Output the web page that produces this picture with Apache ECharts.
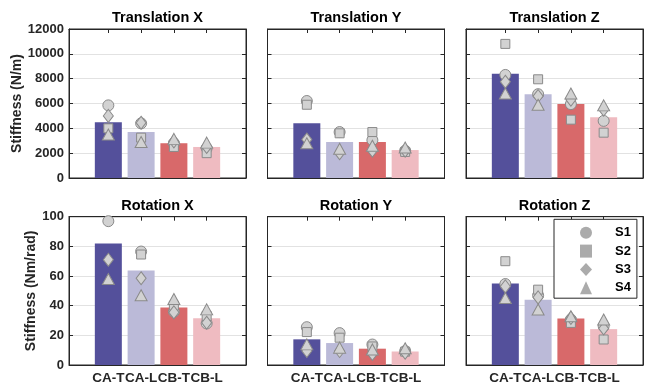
<!DOCTYPE html>
<html>
<head>
<meta charset="utf-8">
<script src="https://cdn.jsdelivr.net/npm/echarts@6/dist/echarts.min.js"></script>
<style>
  html, body { margin: 0; padding: 0; background: #fff; }
  #chart { width: 647px; height: 385px; }
</style>
</head>
<body>
<div id="chart"></div>
<script>
// Stiffness per condition: bar = mean, markers = individual subjects S1..S4
const categories = ['CA-T', 'CA-L', 'CB-T', 'CB-L'];
const panelTitles = ['Translation X', 'Translation Y', 'Translation Z', 'Rotation X', 'Rotation Y', 'Rotation Z'];
const subjects = ['S1', 'S2', 'S3', 'S4'];

// Translation stiffness (N/m)
const transXMean = [4500, 3700, 2800, 2500];
const transXS1 = [5850, 4400, 2800, 2400];
const transXS2 = [4000, 3250, 2500, 2000];
const transXS3 = [5000, 4450, 2950, 2500];
const transXS4 = [3500, 2900, 3150, 2850];

const transYMean = [4400, 2900, 2900, 2250];
const transYS1 = [6200, 3700, 3050, 2200];
const transYS2 = [5900, 3600, 3700, 2100];
const transYS3 = [3100, 2000, 2200, 2200];
const transYS4 = [2800, 2350, 2600, 2450];

const transZMean = [8400, 6750, 5950, 4900];
const transZS1 = [8300, 6750, 5950, 4600];
const transZS2 = [10800, 7950, 4700, 3650];
const transZS3 = [7750, 6600, 6300, 5500];
const transZS4 = [6800, 5900, 6800, 5850];

// Rotation stiffness (Nm/rad)
const rotXMean = [82, 63.8, 38.8, 31.5];
const rotXS1 = [97, 76.5, 36, 28];
const rotXS2 = [104, 74.5, 40, 33];
const rotXS3 = [71, 58.5, 35.5, 28.5];
const rotXS4 = [58, 47, 44.5, 37.5];

const rotYMean = [17.3, 14.8, 11, 9.1];
const rotYS1 = [25.5, 21.5, 13.8, 9.4];
const rotYS2 = [22.2, 18.4, 12.5, 9];
const rotYS3 = [9.5, 9.4, 7.4, 8.3];
const rotYS4 = [13.9, 11.7, 10.5, 11.3];

const rotZMean = [55, 44, 31.3, 24.2];
const rotZS1 = [54.6, 47, 30.7, 26.2];
const rotZS2 = [70, 50.8, 28.4, 17.2];
const rotZS3 = [53, 45.6, 31.8, 24.6];
const rotZS4 = [45.2, 37.4, 32.9, 30.7];

// Y-axis ticks per row
const transTicks = { min: 0, max: 12000, interval: 2000 };
const rotTicks = { min: 0, max: 100, interval: 20 };

const panelMeans = [transXMean, transYMean, transZMean, rotXMean, rotYMean, rotZMean];
const panelSubjects = [
  [transXS1, transXS2, transXS3, transXS4],
  [transYS1, transYS2, transYS3, transYS4],
  [transZS1, transZS2, transZS3, transZS4],
  [rotXS1, rotXS2, rotXS3, rotXS4],
  [rotYS1, rotYS2, rotYS3, rotYS4],
  [rotZS1, rotZS2, rotZS3, rotZS4]
];

// Styling
const barColors = ['#54509b', '#bbbad8', '#d8696a', '#efbbc1'];
const subjectSymbols = ['circle', 'rect', 'diamond', 'triangle'];
const subjectSizes = [11, 9, [10, 13], [12, 11]];
const ink = '#262626';
const font = 'Liberation Sans, Arial, Helvetica, sans-serif';

const colLeft = [69, 267.5, 466];
const rowTop = [29, 216.7];
const plotW = 177;
const plotH = 149;
const xPos = categories.map((c, i) => i + 1);

const grids = [], xAxes = [], yAxes = [], series = [], titles = [];

for (let p = 0; p < 6; p++) {
  const row = Math.floor(p / 3), col = p % 3;
  const ticks = row === 0 ? transTicks : rotTicks;
  grids.push({
    left: colLeft[col], top: rowTop[row], width: plotW, height: plotH,
    show: true, borderColor: ink, borderWidth: 1, backgroundColor: '#fff'
  });
  titles.push({
    text: panelTitles[p],
    left: colLeft[col] + plotW / 2,
    top: rowTop[row] - 18.5,
    textAlign: 'center',
    padding: 0,
    textStyle: { fontFamily: font, fontSize: 14.5, fontWeight: 'bold', color: '#000' }
  });

  const xBase = {
    type: 'value', gridIndex: p, min: -0.2, max: 5.2,
    splitLine: { show: false },
    axisLine: { show: true, onZero: false, lineStyle: { color: ink, width: 1 } },
    axisTick: { show: true, inside: true, length: 4, customValues: xPos, lineStyle: { color: ink } }
  };
  xAxes.push(Object.assign({}, xBase, {
    position: 'bottom',
    axisLabel: {
      show: row === 1, customValues: xPos, margin: 6,
      formatter: v => categories[Math.round(v) - 1] || '',
      fontFamily: font, fontSize: 13.5, fontWeight: 'bold', color: ink
    }
  }));
  xAxes.push(Object.assign({}, xBase, { position: 'top', axisLabel: { show: false } }));

  const yBase = {
    type: 'value', gridIndex: p, min: ticks.min, max: ticks.max, interval: ticks.interval,
    axisLine: { show: true, onZero: false, lineStyle: { color: ink, width: 1 } },
    axisTick: { show: true, inside: true, length: 4, lineStyle: { color: ink } }
  };
  yAxes.push(Object.assign({}, yBase, {
    position: 'left',
    splitLine: { show: true, lineStyle: { color: '#e2e2e2', width: 1 } },
    axisLabel: {
      show: col === 0, margin: 5,
      formatter: v => String(v),
      fontFamily: font, fontSize: 13, fontWeight: 'bold', color: ink
    },
    name: col === 0 ? (row === 0 ? 'Stiffness (N/m)' : 'Stiffness (Nm/rad)') : '',
    nameLocation: 'middle',
    nameGap: row === 0 ? 41 : 25,
    nameTextStyle: { fontFamily: font, fontSize: 14, fontWeight: 'bold', color: ink }
  }));
  yAxes.push(Object.assign({}, yBase, {
    position: 'right', splitLine: { show: false }, axisLabel: { show: false }
  }));

  series.push({
    type: 'bar', name: 'mean', xAxisIndex: 2 * p, yAxisIndex: 2 * p,
    barWidth: 27,
    data: panelMeans[p].map((v, i) => ({ value: [xPos[i], v], itemStyle: { color: barColors[i] } })),
    z: 2, silent: true, animation: false
  });
  panelSubjects[p].forEach((vals, s) => {
    series.push({
      type: 'scatter', name: subjects[s], xAxisIndex: 2 * p, yAxisIndex: 2 * p,
      symbol: subjectSymbols[s], symbolSize: subjectSizes[s],
      itemStyle: { color: '#d2d2d2', borderColor: '#8a8a8a', borderWidth: 1, opacity: 1 },
      data: vals.map((v, i) => [xPos[i], v]),
      z: 3 + s, silent: true, animation: false
    });
  });
}

const chart = echarts.init(document.getElementById('chart'), null, { renderer: 'canvas' });
chart.setOption({
  animation: false,
  backgroundColor: '#fff',
  title: titles,
  grid: grids,
  xAxis: xAxes,
  yAxis: yAxes,
  legend: {
    left: 554, top: 219.3,
    orient: 'vertical',
    selectedMode: false,
    backgroundColor: '#fff',
    borderColor: ink, borderWidth: 1,
    padding: [7, 6, 4, 26],
    itemWidth: 12, itemHeight: 13, itemGap: 5.3,
    formatter: name => '{s|' + name + '}',
    textStyle: {
      fontFamily: font, fontSize: 13, fontWeight: 'bold', color: '#000',
      rich: { s: { fontFamily: font, fontSize: 13, fontWeight: 'bold', color: '#000', padding: [0, 0, 0, 18] } }
    },
    data: subjects.map((s, i) => ({
      name: s, icon: subjectSymbols[i],
      itemStyle: { color: '#ababab', borderWidth: 0 }
    }))
  },
  series: series
});
</script>
</body>
</html>
